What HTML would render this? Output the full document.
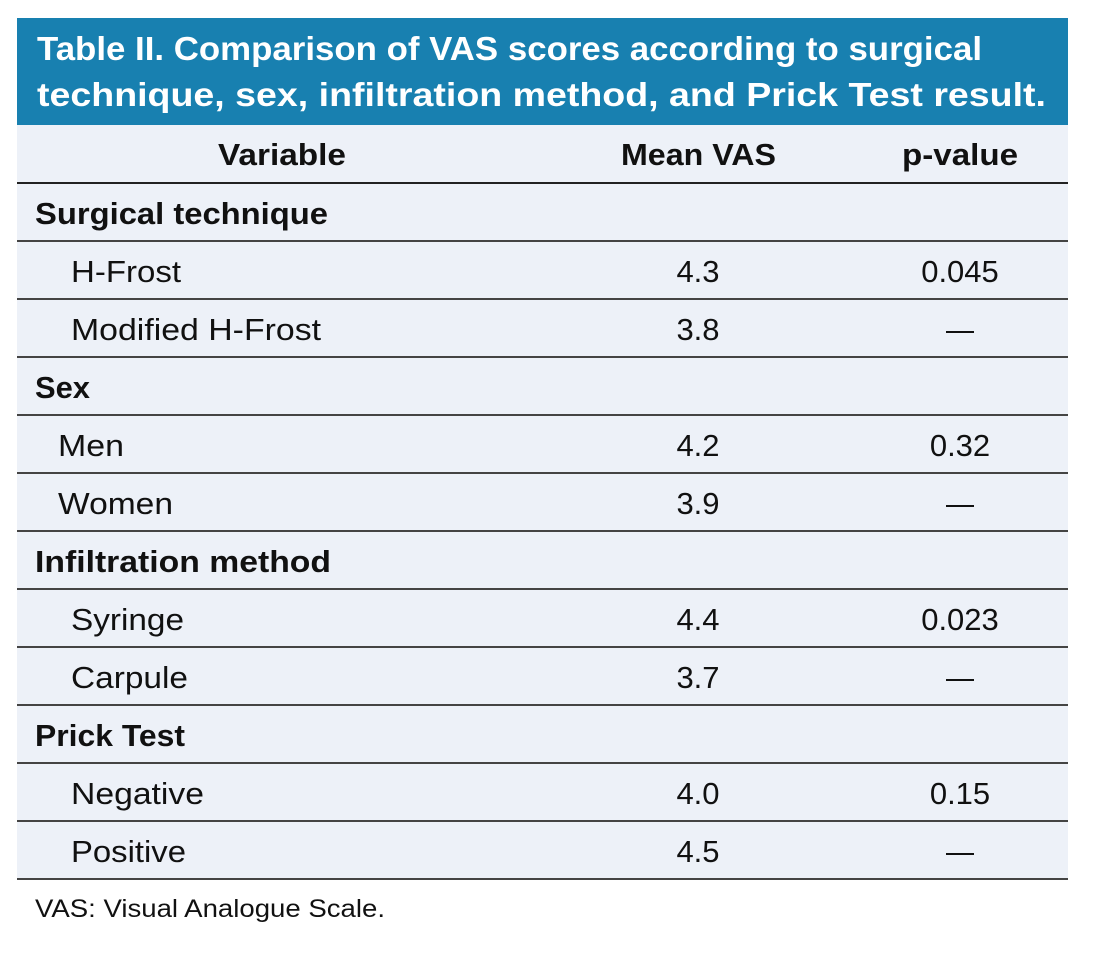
<!DOCTYPE html>
<html><head><meta charset="utf-8"><style>html,body{margin:0;padding:0;background:#fff}svg{display:block}</style></head>
<body>
<svg width="1102" height="959" xmlns="http://www.w3.org/2000/svg" font-family="Liberation Sans, sans-serif">
<rect x="0" y="0" width="1102" height="959" fill="#fff"/>
<rect x="17" y="18" width="1051" height="107" fill="#1880b0"/>
<rect x="17" y="125" width="1051" height="754" fill="#edf1f8"/>
<g fill="#fff" font-weight="bold" font-size="33">
<text x="37" y="60" textLength="945" lengthAdjust="spacingAndGlyphs">Table II. Comparison of VAS scores according to surgical</text>
<text x="37" y="106" textLength="1009" lengthAdjust="spacingAndGlyphs">technique, sex, infiltration method, and Prick Test result.</text>
</g>
<g stroke="#444" stroke-width="2">
<line x1="17" y1="183" x2="1068" y2="183" stroke="#222"/>
<line x1="17" y1="241" x2="1068" y2="241"/>
<line x1="17" y1="299" x2="1068" y2="299"/>
<line x1="17" y1="357" x2="1068" y2="357"/>
<line x1="17" y1="415" x2="1068" y2="415"/>
<line x1="17" y1="473" x2="1068" y2="473"/>
<line x1="17" y1="531" x2="1068" y2="531"/>
<line x1="17" y1="589" x2="1068" y2="589"/>
<line x1="17" y1="647" x2="1068" y2="647"/>
<line x1="17" y1="705" x2="1068" y2="705"/>
<line x1="17" y1="763" x2="1068" y2="763"/>
<line x1="17" y1="821" x2="1068" y2="821"/>
<line x1="17" y1="879" x2="1068" y2="879"/>
</g>
<g fill="#111" font-size="31" font-weight="bold">
<text x="218" y="165" textLength="128" lengthAdjust="spacingAndGlyphs">Variable</text>
<text x="621" y="165" textLength="155" lengthAdjust="spacingAndGlyphs">Mean VAS</text>
<text x="902" y="165" textLength="116" lengthAdjust="spacingAndGlyphs">p-value</text>
<text x="35" y="224" textLength="293" lengthAdjust="spacingAndGlyphs">Surgical technique</text>
<text x="35" y="398" textLength="55" lengthAdjust="spacingAndGlyphs">Sex</text>
<text x="35" y="572" textLength="296" lengthAdjust="spacingAndGlyphs">Infiltration method</text>
<text x="35" y="746" textLength="150" lengthAdjust="spacingAndGlyphs">Prick Test</text>
</g>
<g fill="#111" font-size="31">
<text x="71" y="282" textLength="110" lengthAdjust="spacingAndGlyphs">H-Frost</text>
<text x="71" y="340" textLength="250" lengthAdjust="spacingAndGlyphs">Modified H-Frost</text>
<text x="58" y="456" textLength="66" lengthAdjust="spacingAndGlyphs">Men</text>
<text x="58" y="514" textLength="115" lengthAdjust="spacingAndGlyphs">Women</text>
<text x="71" y="630" textLength="113" lengthAdjust="spacingAndGlyphs">Syringe</text>
<text x="71" y="688" textLength="117" lengthAdjust="spacingAndGlyphs">Carpule</text>
<text x="71" y="804" textLength="133" lengthAdjust="spacingAndGlyphs">Negative</text>
<text x="71" y="862" textLength="115" lengthAdjust="spacingAndGlyphs">Positive</text>
</g>
<g fill="#111" font-size="31" text-anchor="middle">
<text x="698" y="282">4.3</text>
<text x="698" y="340">3.8</text>
<text x="698" y="456">4.2</text>
<text x="698" y="514">3.9</text>
<text x="698" y="630">4.4</text>
<text x="698" y="688">3.7</text>
<text x="698" y="804">4.0</text>
<text x="698" y="862">4.5</text>
<text x="960" y="282">0.045</text>
<text x="960" y="456">0.32</text>
<text x="960" y="630">0.023</text>
<text x="960" y="804">0.15</text>
</g>
<g stroke="#111" stroke-width="2">
<line x1="946" y1="332" x2="974" y2="332"/>
<line x1="946" y1="506" x2="974" y2="506"/>
<line x1="946" y1="680" x2="974" y2="680"/>
<line x1="946" y1="854" x2="974" y2="854"/>
</g>
<text x="35" y="917" fill="#111" font-size="25" textLength="350" lengthAdjust="spacingAndGlyphs">VAS: Visual Analogue Scale.</text>
</svg>
</body></html>
